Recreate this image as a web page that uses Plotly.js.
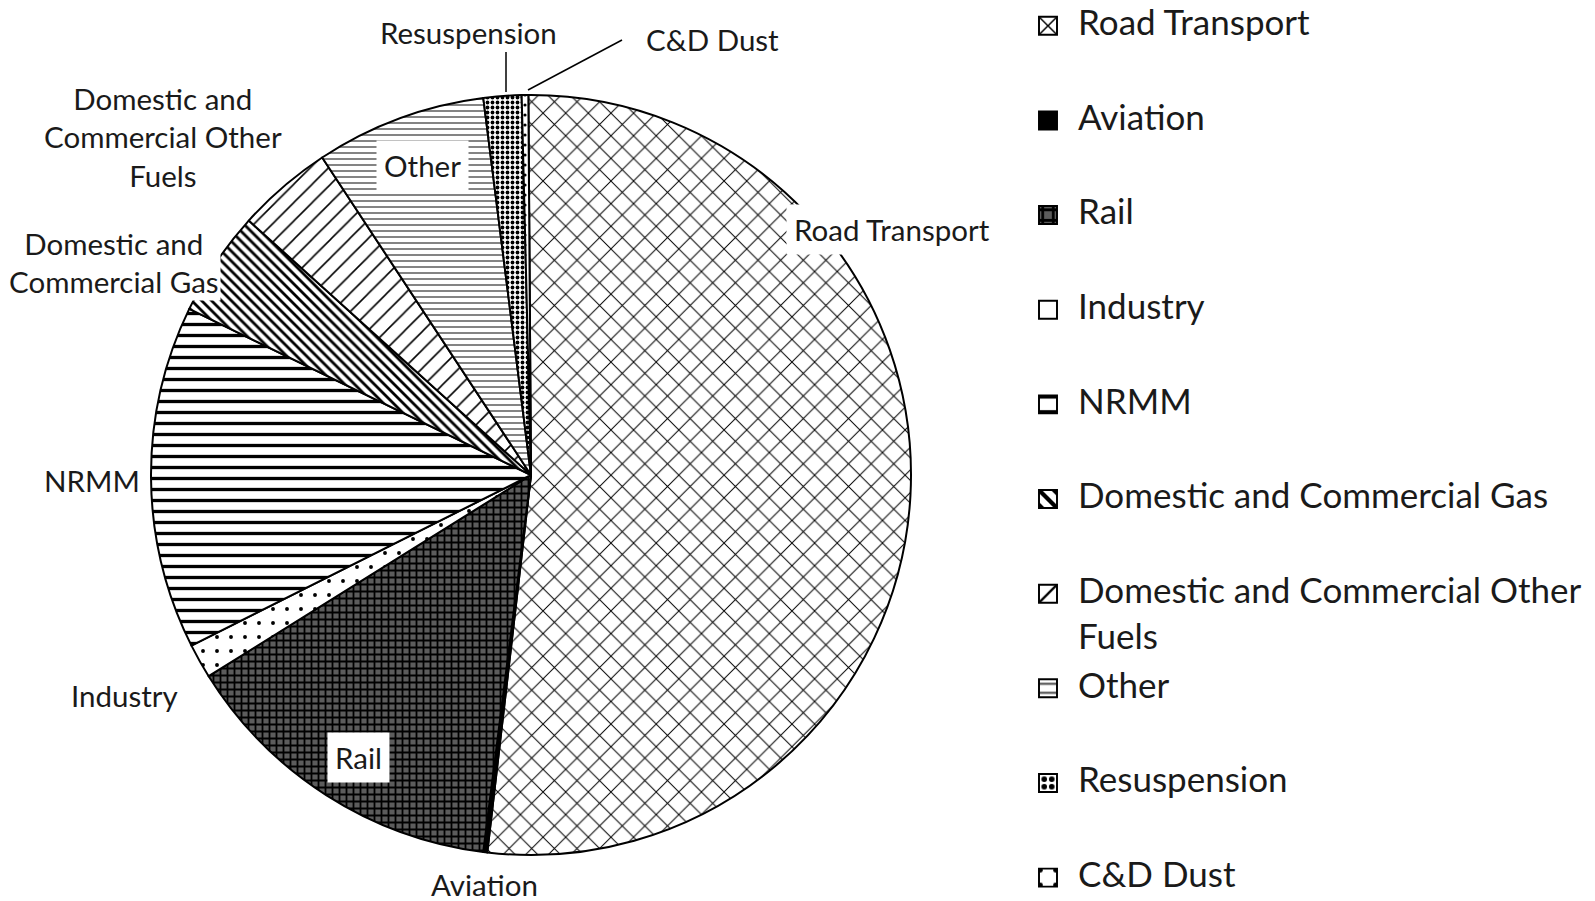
<!DOCTYPE html>
<html>
<head>
<meta charset="utf-8">
<script src="https://cdn.plot.ly/plotly-3.0.1.min.js"></script>
<style>
  html, body { margin: 0; padding: 0; background: #ffffff; }
  #chart { width: 1595px; height: 901px; }
  .legendpie { transform: translate(10px, 0px) scale(1.5); stroke-width: 1.3px !important; }
</style>
</head>
<body>
<div id="chart"></div>
<script>
// ---------------- DATA ----------------
const categories = [
  "Road Transport", "Aviation", "Rail", "Industry", "NRMM",
  "Domestic and Commercial Gas", "Domestic and Commercial Other Fuels",
  "Other", "Resuspension", "C&D Dust"
];
// share of emissions, %
const shares = [51.9, 0.17, 14.1, 1.47, 14.6, 4.47, 4.06, 7.25, 1.61, 0.28];

// slice label text as printed around the pie
const sliceLabelText = [
  "Road Transport", "Aviation", "Rail", "Industry", "NRMM",
  "Domestic and<br>Commercial Gas", "Domestic and<br>Commercial Other<br>Fuels",
  "Other", "Resuspension", "C&D Dust"
];
// legend text lines (wrapped as in the original)
const legendLines = [
  ["Road Transport"], ["Aviation"], ["Rail"], ["Industry"], ["NRMM"],
  ["Domestic and Commercial Gas"], ["Domestic and Commercial Other", "Fuels"],
  ["Other"], ["Resuspension"], ["C&D Dust"]
];

// ---------------- STYLE ----------------
const W = 1595, H = 901;
const patterns = [
  {shape: "x", size: 16, solidity: 0.12, fgcolor: "#000", bgcolor: "#fff"},   // Road Transport
  {shape: "",  fgcolor: "#000", bgcolor: "#000"},                              // Aviation
  {shape: "+", size: 7, solidity: 0.45, fgcolor: "#000", bgcolor: "#5c5c5c"}, // Rail
  {shape: ".", size: 14, solidity: 0.06, fgcolor: "#000", bgcolor: "#fff"},   // Industry
  {shape: "-", size: 11, solidity: 0.3, fgcolor: "#000", bgcolor: "#fff"},    // NRMM
  {shape: "\\", size: 7, solidity: 0.4, fgcolor: "#000", bgcolor: "#fff"},    // Dom Gas
  {shape: "/", size: 13, solidity: 0.12, fgcolor: "#000", bgcolor: "#fff"},   // Dom Other
  {shape: "-", size: 6, solidity: 0.22, fgcolor: "#444", bgcolor: "#fff"},    // Other
  {shape: ".", size: 5, solidity: 0.45, fgcolor: "#000", bgcolor: "#fff"},    // Resuspension
  {shape: ".", size: 10, solidity: 0.08, fgcolor: "#000", bgcolor: "#fff"}    // C&D Dust
];
const sliceColors = patterns.map(p => p.bgcolor);

// label placements (pixel centres) and white boxes
const labelPlace = [
  {x: 892, y: 229, box: true,  pad: 7},
  {x: 484, y: 884, box: false, pad: 1},
  {x: 358, y: 757, box: true,  pad: 7},
  {x: 124, y: 695, box: false, pad: 1},
  {x: 92,  y: 481, box: false, pad: 1},
  {x: 114, y: 262, box: true,  pad: 1},
  {x: 163, y: 137, box: false, pad: 1},
  {x: 422, y: 165, box: true,  pad: 7},
  {x: 468, y: 33,  box: false, pad: 1},
  {x: 712, y: 39,  box: false, pad: 1}
];
const leaderLines = [
  {x0: 506, y0: 52, x1: 506, y1: 92},
  {x0: 622, y0: 40, x1: 528, y1: 90}
];

const px = x => x / W;
const py = y => 1 - y / H;

// pie box: centre (531,475), radius 380
const cx = 531, cy = 475, R = 380;

const legendBaseSize = 23.5;   // sets the legend row pitch
const legendTextSize = 35;     // visible legend text size
const span = (t, extra) => `<span style="font-size:${legendTextSize}px${extra || ""}">${t}</span>`;

const legendLabels = legendLines.map((lines, i) => {
  const isLast = i === legendLines.length - 1;
  let s = span(lines[0]);
  if (lines.length > 1) s += "<br>" + span(lines[1], ";baseline-shift:-16px");
  else if (!isLast) s += "<br> ";
  if (!isLast) s += "<br> ";
  return s;
});

const trace = {
  type: "pie",
  labels: legendLabels,
  values: shares,
  sort: false,
  direction: "clockwise",
  rotation: -0.4,
  textinfo: "none",
  hoverinfo: "percent",
  marker: {
    colors: sliceColors,
    line: {color: "#000", width: 2},
    pattern: {
      shape: patterns.map(p => p.shape),
      size: patterns.map(p => p.size || 8),
      solidity: patterns.map(p => (p.solidity === undefined ? 0.3 : p.solidity)),
      fgcolor: patterns.map(p => p.fgcolor),
      bgcolor: patterns.map(p => p.bgcolor),
      fillmode: "replace"
    }
  },
  domain: {
    x: [px(cx - R), px(cx + R)],
    y: [py(cy + R), py(cy - R)]
  }
};

const annotations = sliceLabelText.map((t, i) => ({
  xref: "paper", yref: "paper",
  x: px(labelPlace[i].x), y: py(labelPlace[i].y),
  xanchor: "center", yanchor: "middle",
  text: t, showarrow: false,
  font: {family: "Lato, 'Open Sans', sans-serif", size: 29.5, color: "#1a1a1a"},
  bgcolor: labelPlace[i].box ? "#ffffff" : "rgba(0,0,0,0)",
  borderpad: labelPlace[i].pad
}));

const shapes = leaderLines.map(l => ({
  type: "line", xref: "paper", yref: "paper",
  x0: px(l.x0), y0: py(l.y0), x1: px(l.x1), y1: py(l.y1),
  line: {color: "#000", width: 1.5}
}));

const layout = {
  width: W, height: H,
  margin: {l: 0, r: 0, t: 0, b: 0},
  paper_bgcolor: "#ffffff",
  showlegend: true,
  legend: {
    x: px(1038), xanchor: "left",
    y: py(4), yanchor: "top",
    valign: "top",
    font: {family: "Lato, 'Open Sans', sans-serif", size: legendBaseSize, color: "#1a1a1a"},
    bgcolor: "rgba(0,0,0,0)",
    borderwidth: 0,
    traceorder: "normal"
  },
  annotations: annotations,
  shapes: shapes
};

Plotly.newPlot("chart", [trace], layout, {displayModeBar: false, staticPlot: true});
</script>
</body>
</html>
